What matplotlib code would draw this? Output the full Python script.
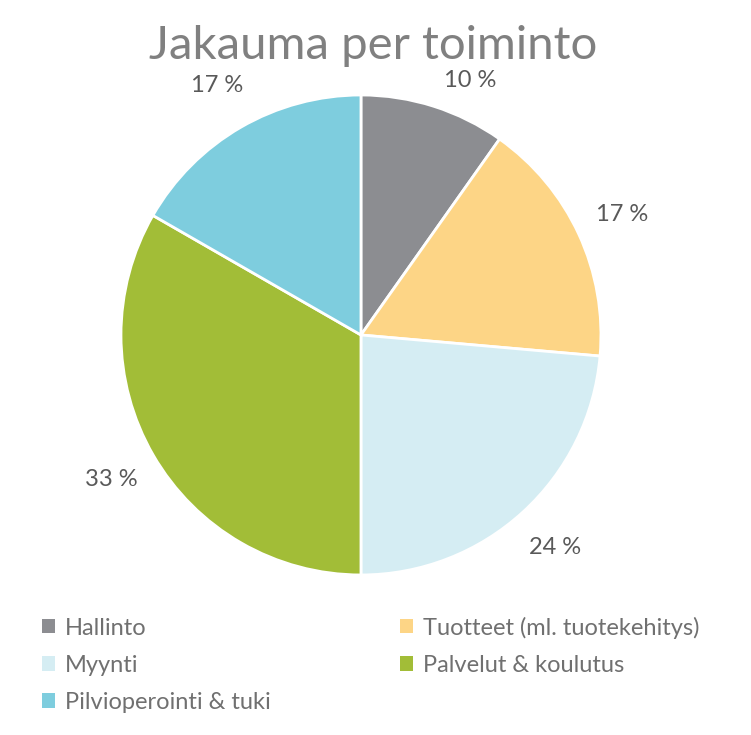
import matplotlib
matplotlib.use("Agg")
import matplotlib.pyplot as plt

categories = ["Hallinto", "Tuotteet (ml. tuotekehitys)", "Myynti",
              "Palvelut & koulutus", "Pilvioperointi & tuki"]
values = [9.8, 16.6, 23.6, 33.3, 16.7]
colors = ["#8C8D91", "#FDD586", "#D5EDF3", "#A2BD37", "#7ECDDE"]

plt.rcParams['font.family'] = ['Lato', 'DejaVu Sans']
text_col = "#595959"
legend_col = "#707070"

fig = plt.figure(figsize=(7.51, 7.35), dpi=100)
ax = fig.add_axes([0.1611, 0.2177, 0.6391, 0.6531])
wedges, texts, autotexts = ax.pie(
    values, colors=colors, startangle=90, counterclock=False,
    autopct=lambda p: f"{p:.0f} %", pctdistance=1.2,
    wedgeprops=dict(edgecolor="white", linewidth=2),
    textprops=dict(color=text_col, fontsize=17))
ax.set_aspect('equal')
ax.set_xlim(-1, 1)
ax.set_ylim(-1, 1)
# first label is nudged below the title, as in the original
autotexts[0].set_position((0.454, 1.06))

fig.text(0.497, 0.938, "Jakauma per toiminto", ha='center', va='center',
         fontsize=34, color="#808080")

order = [0, 2, 4, 1, 3]
leg = fig.legend([wedges[i] for i in order], [categories[i] for i in order],
                 ncol=2, loc='upper left', bbox_to_anchor=(0.028, 0.19),
                 frameon=False, fontsize=17, handlelength=0.55, handleheight=0.55,
                 handletextpad=0.4, labelspacing=0.68, columnspacing=5.5,
                 labelcolor=legend_col)
for h in leg.legend_handles:
    h.set_edgecolor('none')

fig.savefig("out.png", dpi=100)
